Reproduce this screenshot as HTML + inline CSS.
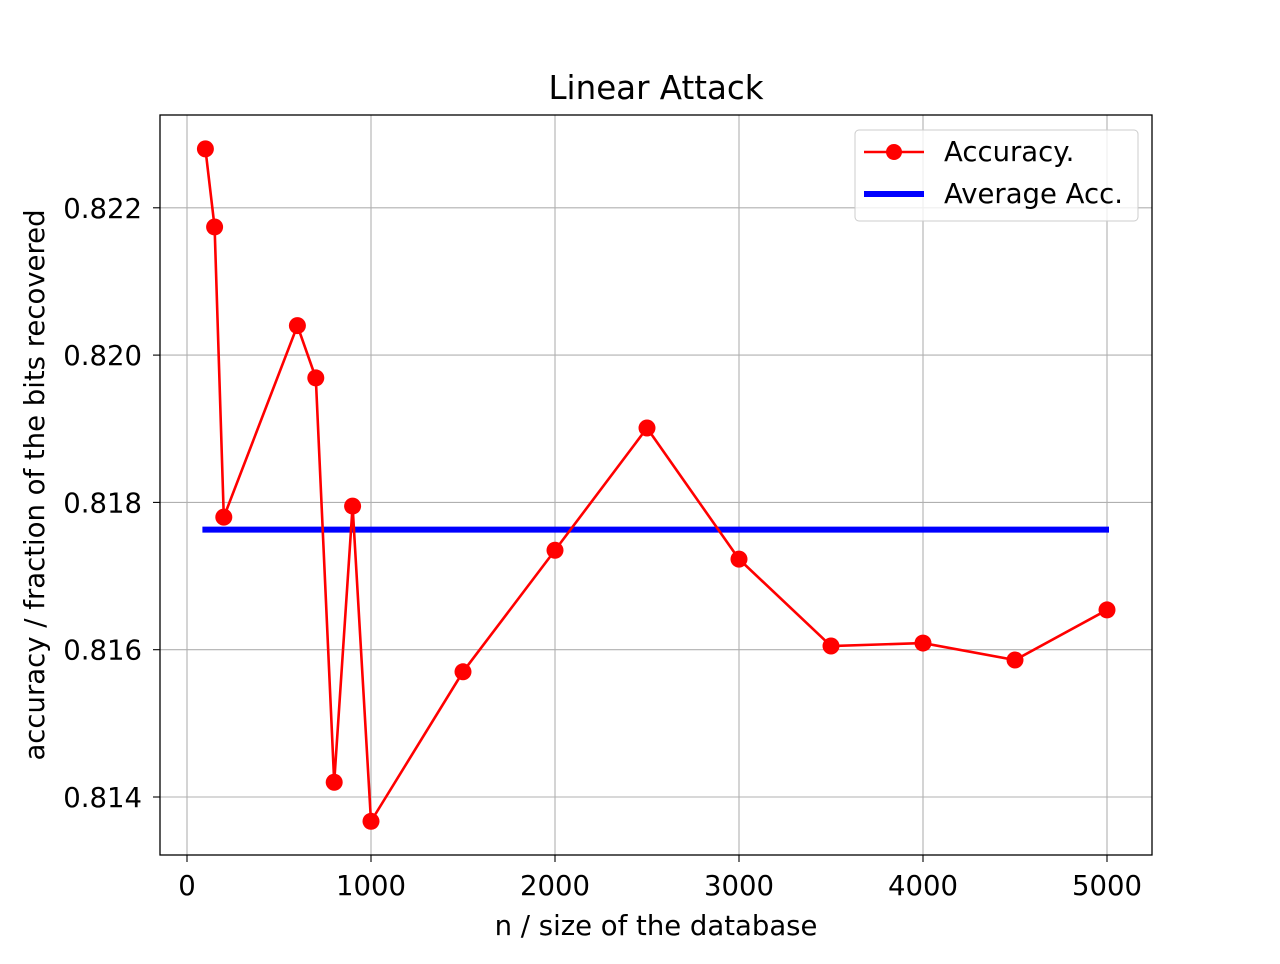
<!DOCTYPE html>
<html><head><meta charset="utf-8"><style>
body{margin:0;background:#fff;font-family:"DejaVu Sans","Liberation Sans",sans-serif;}
svg text{font-family:"DejaVu Sans","Liberation Sans",sans-serif;}
</style></head><body>
<svg id="chart" width="1280" height="960" xmlns="http://www.w3.org/2000/svg">
<rect width="1280" height="960" fill="#fff"/>
<g id="grid"></g>
<g id="series"></g>
<rect x="160" y="115" width="992" height="740" fill="none" stroke="#000" stroke-width="1.3"/>
<g id="ticks"></g>
<text x="656" y="99" text-anchor="middle" font-size="32.5">Linear Attack</text>
<text x="656" y="935" text-anchor="middle" font-size="27.5">n / size of the database</text>
<text transform="translate(44,485) rotate(-90)" text-anchor="middle" font-size="27.5">accuracy / fraction of the bits recovered</text>
<g>
<rect x="855" y="130" width="283" height="91" rx="4" fill="#fff" fill-opacity="0.8" stroke="#ccc"/>
<line x1="864" y1="152" x2="924" y2="152" stroke="red" stroke-width="2.5"/>
<circle cx="894" cy="152" r="8" fill="red"/>
<text x="944" y="161" font-size="27.5">Accuracy.</text>
<line x1="864" y1="194" x2="924" y2="194" stroke="blue" stroke-width="6"/>
<text x="944" y="203" font-size="27.5">Average Acc.</text>
</g>
</svg>
<script>
const xs=[100,150,200,600,700,800,900,1000,1500,2000,2500,3000,3500,4000,4500,5000];
const acc=[0.8228,0.82174,0.8178,0.8204,0.81969,0.8142,0.81795,0.81367,0.8157,0.81735,0.81901,0.81723,0.81605,0.81609,0.81586,0.81654];
const avgAcc=[0.81763];
const xTicks=[0,1000,2000,3000,4000,5000];
const yTicks=[0.814,0.816,0.818,0.820,0.822];
const X=v=>187+v*0.184;
const Y=v=>797-(v-0.814)/0.002*147.3;
const NS="http://www.w3.org/2000/svg";
function mk(t,a,p){const e=document.createElementNS(NS,t);for(const k in a)e.setAttribute(k,a[k]);p.appendChild(e);return e;}
const grid=document.getElementById('grid'),ticks=document.getElementById('ticks'),ser=document.getElementById('series');
xTicks.forEach(v=>{
 let g=mk('line',{x1:X(v),x2:X(v),y1:115,y2:855,stroke:'#b0b0b0','stroke-width':1.1},grid);
 
 
 let t=mk('line',{x1:X(v),x2:X(v),y1:855,y2:862,stroke:'#000','stroke-width':1.1},ticks);
 
 
 let l=mk('text',{x:X(v),y:895,'text-anchor':'middle','font-size':27.5},ticks);l.textContent=v;
 
 
});
yTicks.forEach(v=>{
 let g=mk('line',{x1:160,x2:1152,y1:Y(v),y2:Y(v),stroke:'#b0b0b0','stroke-width':1.1},grid);
 
 
 let t=mk('line',{x1:153,x2:160,y1:Y(v),y2:Y(v),stroke:'#000','stroke-width':1.1},ticks);
 
 
 let l=mk('text',{x:142,y:Y(v)+10,'text-anchor':'end','font-size':27.5},ticks);l.textContent=v.toFixed(3);
 
 
});
let avg=mk('line',{x1:X(xs[0])-3,x2:X(xs[xs.length-1])+2,y1:Y(avgAcc[0]),y2:Y(avgAcc[0]),stroke:'blue','stroke-width':6},ser);


let pl=mk('polyline',{points:xs.map((x,i)=>X(x)+','+Y(acc[i])).join(' '),fill:'none',stroke:'red','stroke-width':2.6},ser);


xs.forEach((x,i)=>{
 let c=mk('circle',{cx:X(x),cy:Y(acc[i]),r:8.5,fill:'red'},ser);
 
 
});
</script>
</body></html>
